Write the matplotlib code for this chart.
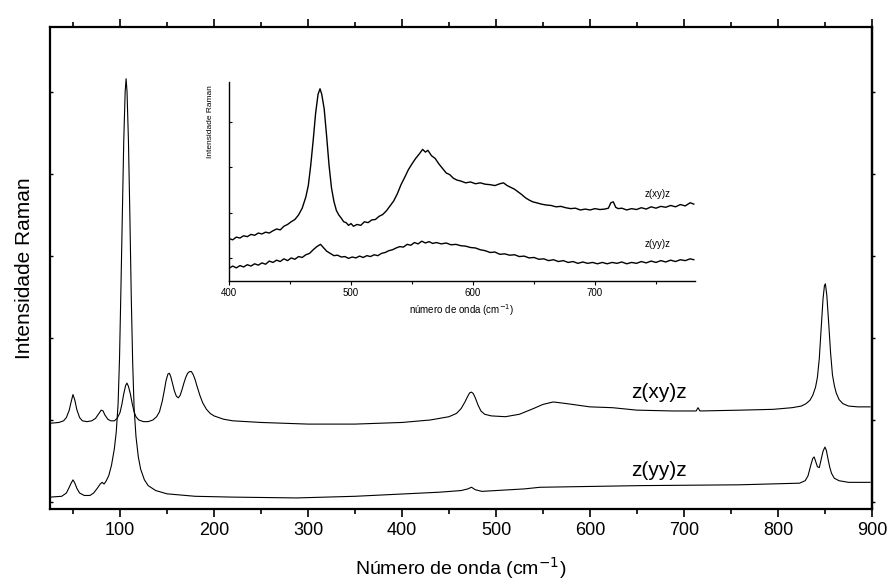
import matplotlib
matplotlib.use("Agg")
import matplotlib.pyplot as plt
from matplotlib.ticker import MultipleLocator, NullFormatter

plt.rcParams['font.family'] = ['Liberation Sans', 'DejaVu Sans']

# main spectra (wavenumber in cm-1, intensity in arbitrary units)
xy_wn = [25.5, 35, 40, 43, 46, 48, 50, 52, 54, 57, 60, 65, 70, 74, 77, 80, 82, 84, 87, 90,
         94, 97, 100, 102, 104, 106, 107.4, 109, 111, 113, 115, 117, 120, 125, 130, 135,
         139, 142, 145, 147, 149, 151, 152.5, 154, 156, 158, 160, 162, 164, 166, 168, 170,
         172, 174, 176, 178, 180, 182, 185, 188, 192, 196, 200, 210, 220, 250, 300, 350,
         400, 430, 450, 458, 463, 467, 470, 472, 474, 476, 478, 481, 484, 488, 495, 510,
         525, 540, 550, 561, 575, 600, 624, 650, 688, 713, 715, 717, 760, 795, 815, 825,
         830, 834, 837, 840, 842, 844, 846, 848, 849.5, 850.5, 852, 854, 856, 858, 860,
         862, 865, 869, 875, 885, 898]
xy_int = [0.96, 0.97, 0.99, 1.03, 1.12, 1.22, 1.31, 1.24, 1.13, 1.03, 0.99, 0.98, 0.99,
          1.02, 1.07, 1.12, 1.11, 1.06, 1.01, 0.99, 0.99, 1.02, 1.09, 1.19, 1.32, 1.42,
          1.45, 1.41, 1.32, 1.20, 1.10, 1.04, 1.00, 0.98, 0.98, 1.00, 1.04, 1.10, 1.23,
          1.35, 1.48, 1.56, 1.57, 1.53, 1.44, 1.35, 1.29, 1.27, 1.30, 1.37, 1.45, 1.52,
          1.57, 1.59, 1.59, 1.55, 1.49, 1.41, 1.30, 1.21, 1.13, 1.08, 1.05, 1.01, 0.99,
          0.97, 0.95, 0.95, 0.97, 1.00, 1.04, 1.08, 1.14, 1.22, 1.29, 1.33, 1.34, 1.32,
          1.27, 1.18, 1.11, 1.07, 1.05, 1.04, 1.07, 1.14, 1.19, 1.22, 1.20, 1.16, 1.15,
          1.12, 1.11, 1.11, 1.15, 1.11, 1.12, 1.13, 1.15, 1.17, 1.20, 1.24, 1.30, 1.40,
          1.52, 1.75, 2.12, 2.48, 2.64, 2.66, 2.52, 2.18, 1.82, 1.55, 1.42, 1.33, 1.25,
          1.20, 1.17, 1.16, 1.16]

yy_wn = [25.5, 38, 43, 46, 48, 50, 52, 54, 57, 62, 68, 72, 76, 79, 81, 83, 85, 88, 91, 94,
         96, 98, 99.5, 101, 102.5, 104, 105.5, 106.5, 107.5, 109, 110.5, 112, 113.5, 115,
         117, 119.5, 122, 126, 130, 138, 150, 180, 220, 288, 350, 440, 463, 470, 474, 478,
         485, 500, 530, 547, 600, 653, 759, 823, 829, 832, 835, 837, 838.5, 840, 842, 844,
         846, 848, 850, 851.5, 853, 855, 857, 860, 865, 875, 898]
yy_int = [0.06, 0.07, 0.11, 0.18, 0.23, 0.27, 0.23, 0.17, 0.11, 0.08, 0.08, 0.11, 0.17,
          0.22, 0.24, 0.22, 0.25, 0.32, 0.45, 0.65, 0.85, 1.20, 1.75, 2.60, 3.50, 4.40,
          5.00, 5.16, 5.00, 4.40, 3.50, 2.50, 1.70, 1.15, 0.80, 0.55, 0.40, 0.27, 0.20,
          0.14, 0.10, 0.07, 0.06, 0.05, 0.07, 0.12, 0.14, 0.16, 0.18, 0.15, 0.13, 0.14,
          0.16, 0.18, 0.19, 0.20, 0.21, 0.23, 0.26, 0.32, 0.45, 0.53, 0.55, 0.50, 0.43,
          0.42, 0.52, 0.62, 0.67, 0.63, 0.54, 0.43, 0.35, 0.29, 0.26, 0.24, 0.24]

# inset spectra
in_xy_wn = [400, 403, 406, 409, 412, 415, 418, 421, 424, 427, 430, 433, 436, 439, 442, 445,
            448, 451, 454, 457, 460, 463, 465, 467, 469, 471, 473, 474.6, 476, 478, 480, 482,
            484, 486, 488, 490, 492, 494, 496, 498, 500, 502, 505, 508, 511, 514, 517, 520,
            523, 526, 529, 532, 535, 538, 541, 544, 547, 550, 553, 556, 558.7, 561, 563, 566,
            569, 572, 575, 578, 581, 584, 587, 590, 594, 598, 602, 606, 610, 614, 618, 622,
            625, 628, 631, 634, 637, 640, 643, 646, 649, 652, 656, 660, 664, 668, 672, 676,
            680, 684, 688, 692, 696, 700, 704, 708, 711, 713, 715, 717, 719, 722, 726, 730,
            734, 738, 742, 746, 750, 754, 758, 762, 766, 770, 774, 778, 781]
in_xy_int = [0.43, 0.40, 0.46, 0.44, 0.49, 0.47, 0.52, 0.50, 0.55, 0.53, 0.57, 0.55, 0.60,
             0.64, 0.62, 0.70, 0.74, 0.80, 0.85, 0.95, 1.10, 1.35, 1.60, 2.05, 2.60, 3.20,
             3.62, 3.74, 3.62, 3.30, 2.70, 2.05, 1.55, 1.25, 1.05, 0.95, 0.88, 0.80, 0.78,
             0.72, 0.76, 0.70, 0.74, 0.72, 0.80, 0.78, 0.84, 0.85, 0.92, 0.96, 1.04, 1.15,
             1.26, 1.42, 1.62, 1.78, 1.95, 2.08, 2.20, 2.30, 2.40, 2.34, 2.38, 2.26, 2.20,
             2.08, 1.98, 1.88, 1.84, 1.76, 1.72, 1.70, 1.66, 1.68, 1.64, 1.66, 1.63, 1.62,
             1.60, 1.64, 1.66, 1.60, 1.56, 1.52, 1.46, 1.40, 1.33, 1.28, 1.24, 1.22, 1.19,
             1.17, 1.16, 1.13, 1.14, 1.11, 1.09, 1.10, 1.06, 1.08, 1.06, 1.09, 1.07, 1.08,
             1.10, 1.22, 1.24, 1.12, 1.09, 1.10, 1.06, 1.09, 1.07, 1.11, 1.08, 1.13, 1.10,
             1.14, 1.12, 1.16, 1.13, 1.18, 1.15, 1.22, 1.19]

in_yy_wn = [400, 403, 406, 409, 412, 415, 418, 421, 424, 427, 430, 433, 436, 439, 442, 445,
            448, 451, 454, 457, 460, 463, 466, 469, 472, 475, 477, 480, 483, 486, 489, 492,
            495, 498, 501, 504, 507, 510, 513, 516, 519, 522, 525, 528, 531, 534, 537, 540,
            543, 546, 549, 552, 555, 558, 561, 564, 567, 570, 574, 578, 582, 586, 590, 594,
            598, 602, 606, 610, 614, 618, 622, 626, 630, 634, 638, 642, 646, 650, 654, 658,
            662, 666, 670, 674, 678, 682, 686, 690, 694, 698, 702, 706, 710, 714, 718, 722,
            726, 730, 734, 738, 742, 746, 750, 754, 758, 762, 766, 770, 774, 778, 781]
in_yy_int = [-0.23, -0.18, -0.22, -0.17, -0.20, -0.15, -0.18, -0.13, -0.16, -0.11, -0.14,
             -0.07, -0.10, -0.05, -0.08, -0.02, -0.06, 0.00, -0.03, 0.03, 0.01, 0.07, 0.10,
             0.18, 0.25, 0.30, 0.24, 0.15, 0.10, 0.05, 0.06, 0.02, 0.03, -0.01, 0.02, 0.00,
             0.04, 0.01, 0.05, 0.03, 0.07, 0.05, 0.10, 0.12, 0.16, 0.18, 0.22, 0.25, 0.24,
             0.30, 0.28, 0.34, 0.31, 0.37, 0.33, 0.36, 0.32, 0.34, 0.31, 0.33, 0.29, 0.30,
             0.27, 0.26, 0.23, 0.22, 0.18, 0.16, 0.12, 0.13, 0.08, 0.09, 0.06, 0.07, 0.03,
             0.04, 0.00, 0.01, -0.03, -0.02, -0.06, -0.04, -0.08, -0.06, -0.10, -0.08, -0.12,
             -0.09, -0.12, -0.10, -0.13, -0.10, -0.13, -0.10, -0.12, -0.09, -0.13, -0.10,
             -0.12, -0.08, -0.11, -0.07, -0.10, -0.06, -0.09, -0.05, -0.08, -0.04, -0.06,
             -0.02, -0.04]

labels = ['z(xy)z', 'z(yy)z']

fig = plt.figure(figsize=(8.89, 5.85), dpi=100)
ax = fig.add_axes([0.0562, 0.1299, 0.9246, 0.8239])
ax.plot(xy_wn, xy_int, color='black', lw=0.8)
ax.plot(yy_wn, yy_int, color='black', lw=0.8)
ax.set_xlim(25.5, 900)
ax.set_ylim(-0.085, 5.79)
ax.xaxis.set_major_locator(MultipleLocator(100))
ax.xaxis.set_minor_locator(MultipleLocator(50))
ax.yaxis.set_major_locator(MultipleLocator(1))
ax.yaxis.set_major_formatter(NullFormatter())
ax.tick_params(axis='x', which='major', direction='out', length=6, width=1.2,
               top=True, bottom=True, labelsize=13, pad=3)
ax.tick_params(axis='x', which='minor', direction='out', length=3.5, width=1.2,
               top=True, bottom=True)
ax.tick_params(axis='y', which='major', direction='in', length=2.5, width=1.0,
               left=True, right=False)
# right spine ticks point outward
ax_r = ax.secondary_yaxis('right')
ax_r.yaxis.set_major_locator(MultipleLocator(1))
ax_r.yaxis.set_major_formatter(NullFormatter())
ax_r.tick_params(direction='out', length=2.5, width=1.0)
ax_r.spines['right'].set_linewidth(1.6)
for s in ax.spines.values():
    s.set_linewidth(1.6)
ax.set_xlabel('Número de onda (cm$^{-1}$)', fontsize=14, labelpad=12)
ax.set_ylabel('Intensidade Raman', fontsize=15, labelpad=8)
ax.text(673, 1.33, labels[0], fontsize=15, ha='center', va='center')
ax.text(673, 0.39, labels[1], fontsize=15, ha='center', va='center')

# inset
ins = fig.add_axes([0.2576, 0.5197, 0.5242, 0.3401])
ins.plot(in_xy_wn, in_xy_int, color='black', lw=1.0)
ins.plot(in_yy_wn, in_yy_int, color='black', lw=1.0)
ins.set_xlim(400, 782)
ins.set_ylim(-0.51, 3.89)
ins.spines['top'].set_visible(False)
ins.spines['right'].set_visible(False)
ins.spines['left'].set_linewidth(1.0)
ins.spines['bottom'].set_linewidth(1.0)
ins.xaxis.set_major_locator(MultipleLocator(100))
ins.xaxis.set_minor_locator(MultipleLocator(50))
ins.yaxis.set_major_locator(MultipleLocator(1))
ins.yaxis.set_major_formatter(NullFormatter())
ins.tick_params(axis='x', which='major', direction='out', length=3, width=0.8,
                labelsize=7, pad=2)
ins.tick_params(axis='x', which='minor', direction='out', length=2, width=0.8)
ins.tick_params(axis='y', direction='in', length=2, width=0.8)
ins.set_xlabel('número de onda (cm$^{-1}$)', fontsize=7, labelpad=3)
ins.text(-0.04, 0.80, 'Intensidade Raman', transform=ins.transAxes, rotation=90,
         fontsize=6, ha='center', va='center')
ins.text(751, 1.41, labels[0], fontsize=7, ha='center', va='center')
ins.text(751, 0.31, labels[1], fontsize=7, ha='center', va='center')

fig.savefig('out.png', dpi=100)
